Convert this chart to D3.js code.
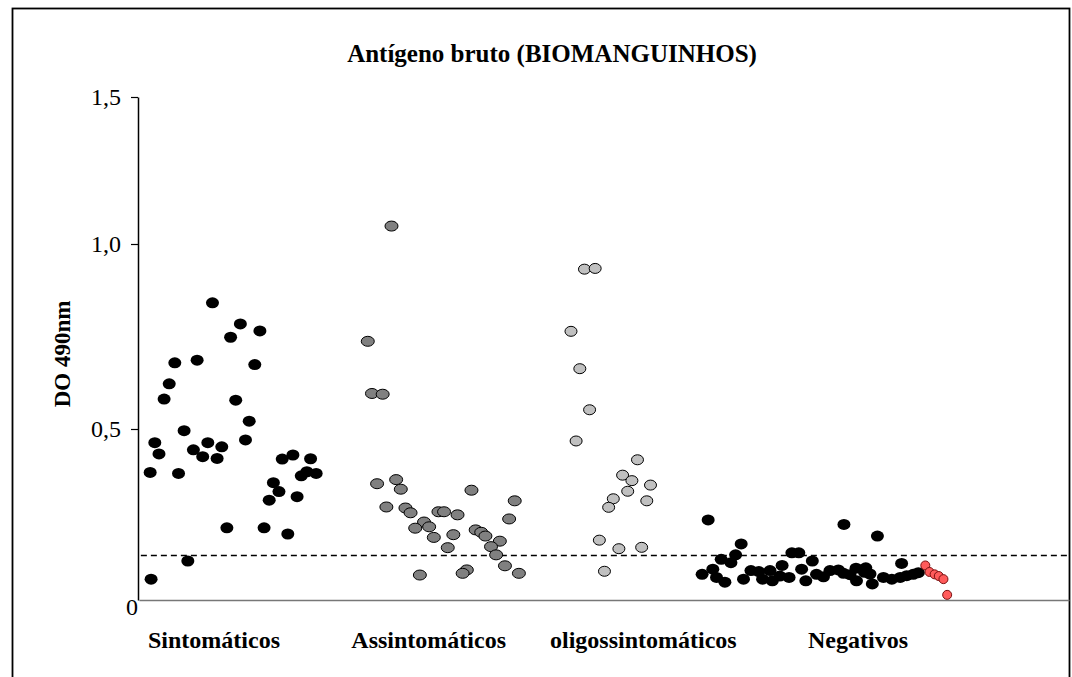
<!DOCTYPE html>
<html>
<head>
  <meta charset="utf-8">
  <title>Antígeno bruto</title>
  <script src="https://cdn.jsdelivr.net/npm/d3@7"></script>
  <style>
    body { margin: 0; background: #fff; }
    text { font-family: "Liberation Serif", "Times New Roman", serif; }
  </style>
</head>
<body>
<script>
  let [w, h] = [1072, 677]

  // categories and tick labels
  const categories = ["Sintomáticos", "Assintomáticos", "oligossintomáticos", "Negativos"]
  const yTicks = [0, 0.5, 1.0, 1.5]
  const yTickLabels = ["0", "0,5", "1,0", "1,5"]
  const cutoff = 0.130

  // [sample position, DO 490nm]
  const sintomaticos = [
    [15.8, 0.841], [21.8, 0.784], [26.0, 0.765], [19.7, 0.748], [7.7, 0.679], [12.5, 0.686],
    [24.9, 0.674], [6.5, 0.622], [5.4, 0.581], [20.8, 0.578], [23.7, 0.521], [9.7, 0.495],
    [3.4, 0.460], [14.8, 0.460], [22.9, 0.468], [4.3, 0.427], [11.7, 0.439], [13.7, 0.419],
    [17.8, 0.448], [16.8, 0.414], [2.4, 0.373], [8.5, 0.370], [30.8, 0.412], [33.1, 0.424],
    [36.9, 0.413], [34.9, 0.363], [36.1, 0.375], [38.1, 0.370], [28.9, 0.343], [30.1, 0.317],
    [28.0, 0.292], [34.0, 0.302], [18.9, 0.211], [26.9, 0.211], [32.0, 0.193], [10.5, 0.114],
    [2.6, 0.061]
  ]
  const assintomaticos = [
    [54.3, 1.061], [49.2, 0.737], [50.1, 0.596], [52.4, 0.594], [51.2, 0.340], [55.3, 0.352],
    [56.3, 0.324], [71.5, 0.321], [53.2, 0.272], [57.3, 0.269], [58.4, 0.255], [64.4, 0.258],
    [65.6, 0.258], [68.5, 0.249], [80.8, 0.290], [79.6, 0.237], [61.3, 0.228], [62.4, 0.214],
    [59.4, 0.210], [63.4, 0.183], [67.6, 0.191], [72.4, 0.205], [73.6, 0.198], [74.5, 0.187],
    [77.6, 0.172], [75.7, 0.156], [66.4, 0.153], [76.8, 0.132], [78.7, 0.100], [70.5, 0.088],
    [69.6, 0.078], [81.7, 0.078], [60.4, 0.073]
  ]
  const oligossintomaticos = [
    [95.8, 0.932], [98.1, 0.934], [92.9, 0.764], [94.8, 0.663], [96.9, 0.552], [94.0, 0.465],
    [107.2, 0.410], [104.0, 0.365], [106.0, 0.349], [110.0, 0.336], [105.1, 0.318], [102.0, 0.296],
    [109.2, 0.290], [101.0, 0.271], [99.0, 0.175], [103.2, 0.150], [108.1, 0.154], [100.1, 0.084]
  ]
  const negativos = [
    [122.4, 0.234], [129.5, 0.164], [128.3, 0.132], [125.2, 0.119], [127.3, 0.109], [123.4, 0.090],
    [121.1, 0.075], [124.2, 0.066], [126.0, 0.052], [130.0, 0.061], [131.6, 0.086], [133.3, 0.083],
    [134.1, 0.061], [135.7, 0.086], [136.2, 0.056], [137.8, 0.070], [138.3, 0.101], [140.4, 0.138],
    [141.9, 0.138], [144.8, 0.114], [142.5, 0.090], [139.8, 0.066], [143.4, 0.056], [145.7, 0.075],
    [147.2, 0.068], [148.6, 0.086], [150.4, 0.088], [151.5, 0.078], [152.9, 0.074], [154.2, 0.093],
    [154.3, 0.056], [156.3, 0.094], [156.0, 0.081], [157.7, 0.047], [157.2, 0.076], [151.6, 0.221],
    [158.8, 0.187], [164.0, 0.107], [160.1, 0.066], [161.9, 0.061], [163.7, 0.066], [165.1, 0.071],
    [166.5, 0.075], [167.6, 0.080]
  ]
  const negativosRed = [
    [169.1, 0.101], [170.0, 0.082], [171.1, 0.075], [172.0, 0.070], [173.0, 0.061], [173.8, 0.015]
  ]

  var svg = d3.select("body")
    .append("svg")
    .attr("width", w)
    .attr("height", h)

  // outer frame (bottom edge runs off the picture)
  svg.append("rect")
    .attr("x", 12.5).attr("y", 8.5)
    .attr("width", 1057).attr("height", 720)
    .attr("fill", "none").attr("stroke", "#000").attr("stroke-width", 1.8)

  var x = d3.scaleLinear().domain([0, 200]).range([139, 1069])
  // value axis is not evenly spaced in the original
  var y = d3.scaleLinear().domain(yTicks).range([600, 429, 244, 97])
  var xCat = d3.scalePoint().domain(categories).range([214, 858])

  svg.append("text")
    .attr("x", 552).attr("y", 62)
    .attr("text-anchor", "middle")
    .attr("font-size", 25).attr("font-weight", "bold")
    .text("Antígeno bruto (BIOMANGUINHOS)")

  svg.append("text")
    .attr("transform", "translate(70," + 354 + ") rotate(-90)")
    .attr("text-anchor", "middle")
    .attr("font-size", 23).attr("font-weight", "bold")
    .text("DO 490nm")

  // x axis line
  var xAxis = svg.append("g")
    .attr("transform", "translate(0," + y(0) + ")")
    .call(d3.axisBottom(x).tickValues([]).tickSizeOuter(0))
  xAxis.select(".domain").attr("stroke", "#777").attr("stroke-width", 1.5)

  // y axis
  var yAxis = svg.append("g")
    .attr("transform", "translate(138,0)")
    .call(d3.axisLeft(y).tickValues(yTicks)
      .tickFormat((d, i) => yTickLabels[i])
      .tickSize(7).tickSizeOuter(0).tickPadding(10))
  yAxis.select(".domain").attr("stroke-width", 1.5)
  yAxis.selectAll(".tick line").attr("stroke-width", 1.2)
  yAxis.selectAll(".tick text")
    .attr("font-family", "Liberation Serif, serif")
    .attr("font-size", 24).attr("fill", "#000")
  var zeroTick = yAxis.selectAll(".tick").filter(d => d === 0)
  zeroTick.select("line").remove()
  zeroTick.select("text").attr("x", -12).attr("dy", "0.6em").attr("text-anchor", "start")

  // category labels
  svg.selectAll(".cat")
    .data(categories)
    .enter().append("text")
    .attr("class", "cat")
    .attr("x", d => xCat(d)).attr("y", 648)
    .attr("text-anchor", "middle")
    .attr("font-size", 24).attr("font-weight", "bold")
    .text(d => d)

  // cut-off line
  svg.append("line")
    .attr("x1", x(0.4)).attr("x2", x(199.6))
    .attr("y1", y(cutoff)).attr("y2", y(cutoff))
    .attr("stroke", "#000").attr("stroke-width", 1.5)
    .attr("stroke-dasharray", "6,4")

  function dots(data, fill, stroke, rx, ry) {
    svg.append("g").selectAll("ellipse")
      .data(data)
      .enter().append("ellipse")
      .attr("cx", d => x(d[0]))
      .attr("cy", d => y(d[1]))
      .attr("rx", rx).attr("ry", ry)
      .attr("fill", fill)
      .attr("stroke", stroke)
      .attr("stroke-width", stroke === "none" ? 0 : 1)
  }

  dots(sintomaticos, "#000", "none", 6.5, 5.5)
  dots(assintomaticos, "#808080", "#000", 6.5, 5)
  dots(oligossintomaticos, "#c0c0c0", "#000", 6, 5)
  dots(negativos, "#000", "none", 6.5, 5.5)
  dots(negativosRed, "#ff5b5b", "#7a1010", 4.5, 4.5)
</script>
</body>
</html>
